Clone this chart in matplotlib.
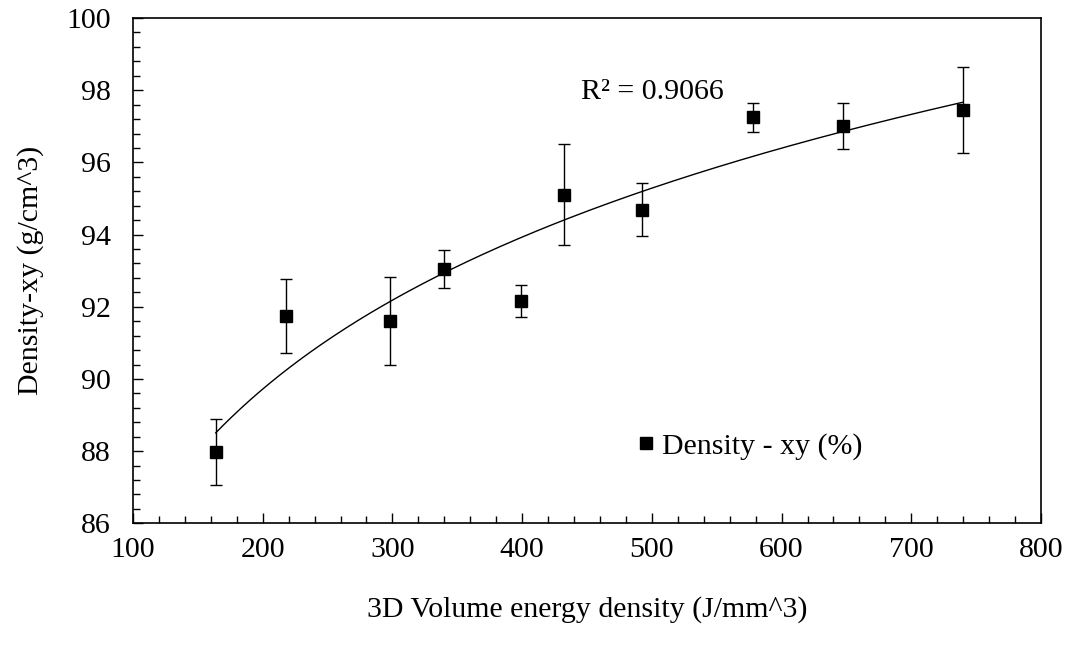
import numpy as np
import matplotlib
matplotlib.use("Agg")
import matplotlib.pyplot as plt
from matplotlib.ticker import MultipleLocator
from matplotlib.lines import Line2D

# values
energy = [163.8, 218.2, 297.9, 340.0, 398.9, 432.0, 492.3, 578.0, 647.2, 739.5]
density = [87.98, 91.74, 91.61, 93.05, 92.15, 95.10, 94.69, 97.25, 97.01, 97.45]
density_err = [0.92, 1.03, 1.21, 0.53, 0.44, 1.40, 0.73, 0.40, 0.64, 1.20]
r2_label = "R² = 0.9066"

plt.rcParams['font.family'] = ['Liberation Serif', 'DejaVu Serif']

FS = 21.5

fig = plt.figure(figsize=(10.69, 6.63), dpi=100)
ax = fig.add_axes([0.1244, 0.2107, 0.8494, 0.7621])

ax.errorbar(energy, density, yerr=density_err, fmt='s', color='black',
            markersize=8.5, ecolor='black', elinewidth=1.0, capsize=4.5,
            capthick=1.0, zorder=3)

# logarithmic trendline
a, b = np.polyfit(np.log(energy), density, 1)
xs = np.linspace(min(energy), max(energy), 300)
ax.plot(xs, a * np.log(xs) + b, color='black', linewidth=1.0, zorder=2)

ax.text(445.6, 97.95, r2_label, fontsize=FS, va='center', ha='left')

ax.set_xlim(100, 800)
ax.set_ylim(86, 100)
ax.xaxis.set_major_locator(MultipleLocator(100))
ax.xaxis.set_minor_locator(MultipleLocator(20))
ax.yaxis.set_major_locator(MultipleLocator(2))
ax.yaxis.set_minor_locator(MultipleLocator(0.4))
ax.tick_params(which='both', direction='in', top=False, right=False,
               labelsize=FS, width=1.0)
ax.tick_params(which='major', length=7)
ax.tick_params(which='minor', length=5)
ax.tick_params(axis='x', which='major', pad=10)
ax.tick_params(axis='y', which='major', pad=16)
for s in ax.spines.values():
    s.set_linewidth(1.2)

ax.set_xlabel('3D Volume energy density (J/mm^3)', fontsize=FS, labelpad=24)
ax.set_ylabel('Density-xy (g/cm^3)', fontsize=FS, labelpad=16)

handle = Line2D([], [], marker='s', linestyle='none', color='black',
                markersize=8.5)
ax.legend([handle], ['Density - xy (%)'], loc='center left',
          bbox_to_anchor=(0.542, 0.153), frameon=False, fontsize=FS,
          handlelength=0.4, handletextpad=0.35, borderpad=0)

fig.savefig('out.png', dpi=100)
